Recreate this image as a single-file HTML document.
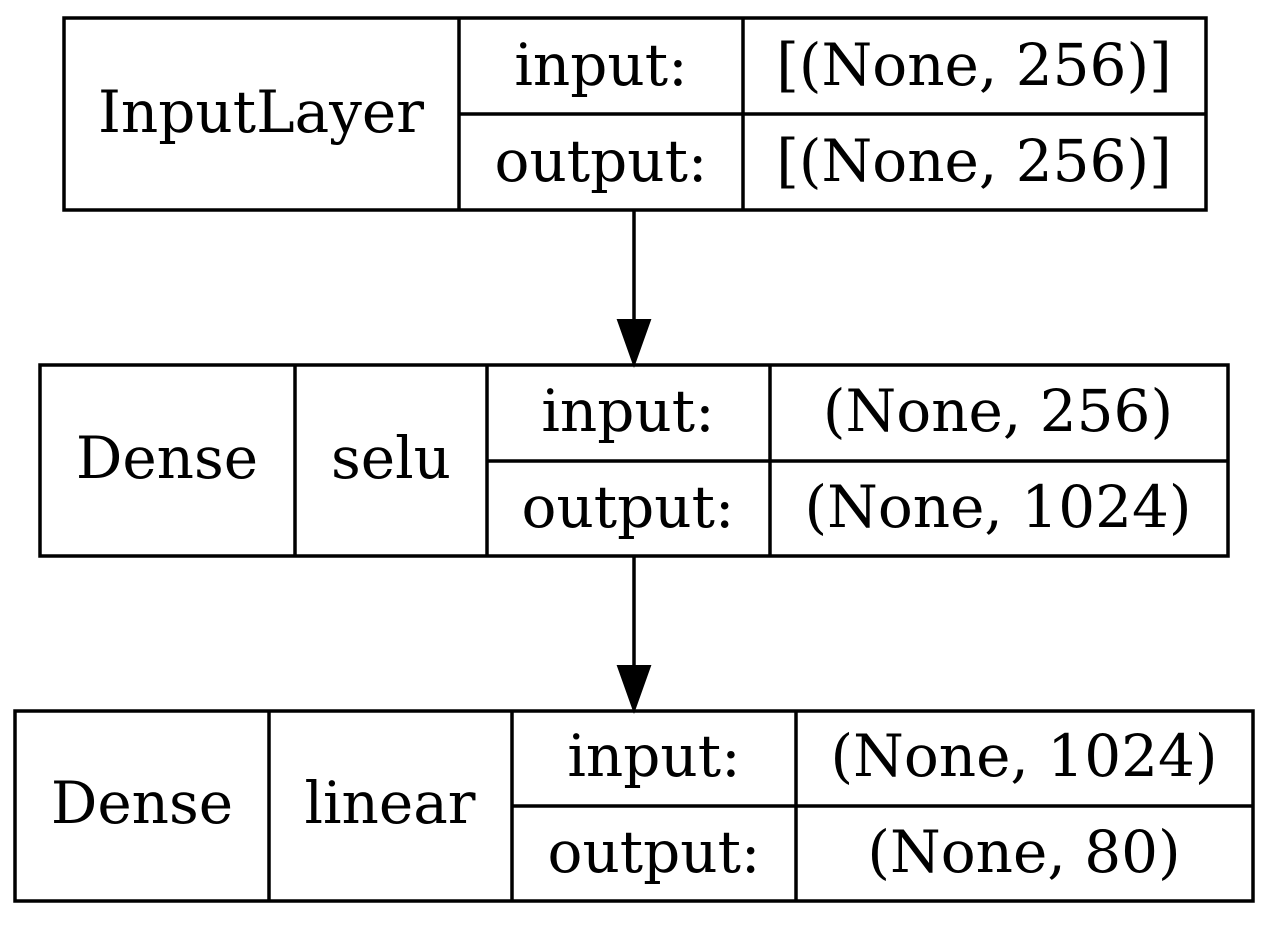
<!DOCTYPE html>
<html><head><meta charset="utf-8"><style>
html,body{margin:0;padding:0;background:#fff;}
svg text{font-family:"DejaVu Serif","Liberation Serif",serif;font-size:58px;fill:#000;text-anchor:middle;dominant-baseline:central;}
.b{fill:none;stroke:#000;stroke-width:3.5;}
</style></head><body>
<svg width="1271" height="921" viewBox="0 0 1271 921">
<g>
<rect class="b" x="64" y="18" width="1142" height="192"/>
<line class="b" x1="459" y1="18" x2="459" y2="210"/>
<line class="b" x1="743" y1="18" x2="743" y2="210"/>
<line class="b" x1="459" y1="114" x2="1206" y2="114"/>
<text x="261" y="112">InputLayer</text>
<text x="601" y="65">input:</text>
<text x="601" y="161">output:</text>
<text x="974" y="65">[(None, 256)]</text>
<text x="974" y="161">[(None, 256)]</text>
</g>
<g>
<line class="b" x1="634" y1="210" x2="634" y2="325"/>
<polygon points="618,320 650,320 634,365" fill="#000" stroke="#000" stroke-width="2"/>
</g>
<g>
<rect class="b" x="40" y="365" width="1188" height="191"/>
<line class="b" x1="295" y1="365" x2="295" y2="556"/>
<line class="b" x1="487" y1="365" x2="487" y2="556"/>
<line class="b" x1="770" y1="365" x2="770" y2="556"/>
<line class="b" x1="487" y1="461" x2="1228" y2="461"/>
<text x="167" y="458">Dense</text>
<text x="391" y="458">selu</text>
<text x="628" y="411">input:</text>
<text x="628" y="507">output:</text>
<text x="998" y="411">(None, 256)</text>
<text x="998" y="507">(None, 1024)</text>
</g>
<g>
<line class="b" x1="634" y1="556" x2="634" y2="671"/>
<polygon points="618,666 650,666 634,711" fill="#000" stroke="#000" stroke-width="2"/>
</g>
<g>
<rect class="b" x="15" y="711" width="1238" height="190"/>
<line class="b" x1="269" y1="711" x2="269" y2="901"/>
<line class="b" x1="512" y1="711" x2="512" y2="901"/>
<line class="b" x1="796" y1="711" x2="796" y2="901"/>
<line class="b" x1="512" y1="806" x2="1253" y2="806"/>
<text x="142" y="803">Dense</text>
<text x="390" y="803">linear</text>
<text x="654" y="756">input:</text>
<text x="654" y="852">output:</text>
<text x="1024" y="756">(None, 1024)</text>
<text x="1024" y="852">(None, 80)</text>
</g>
</svg>
</body></html>
